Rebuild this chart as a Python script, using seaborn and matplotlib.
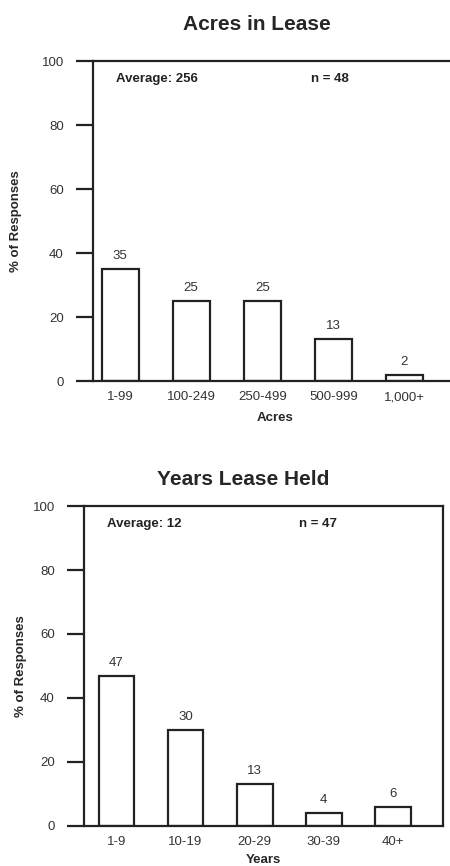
import matplotlib
matplotlib.use("Agg")
import matplotlib.pyplot as plt
import seaborn as sns
import pandas as pd

# Chart data
acre_groups = ["1-99", "100-249", "250-499", "500-999", "1,000+"]
acre_pct = [35, 25, 25, 13, 2]

year_groups = ["1-9", "10-19", "20-29", "30-39", "40+"]
year_pct = [47, 30, 13, 4, 6]

y_ticks = [0, 20, 40, 60, 80, 100]

sns.set_style("white")
plt.rcParams["font.family"] = ["Liberation Sans", "DejaVu Sans"]

edge = "#222222"
txt = "#333333"
fs = 9.5

fig = plt.figure(figsize=(4.5, 8.66), dpi=100)
ax1 = fig.add_axes([0.2067, 0.560, 0.809, 0.3695])
ax2 = fig.add_axes([0.1867, 0.0462, 0.798, 0.3695])


def draw(ax, cats, vals, xlabel, title, avg, n, xlim, title_x, title_pad, ylab_x, xpad):
    df = pd.DataFrame({"cat": cats, "pct": vals})
    sns.barplot(data=df, x="cat", y="pct", ax=ax, color="white",
                edgecolor=edge, linewidth=1.6, width=0.52)
    ax.bar_label(ax.containers[0], labels=[str(v) for v in vals],
                 padding=5, fontsize=fs, color=txt)
    ax.set_ylim(0, 100)
    ax.set_xlim(*xlim)
    ax.set_yticks(y_ticks)
    ax.tick_params(axis="y", direction="out", length=12, width=1.6,
                   color=edge, pad=9, labelsize=fs, labelcolor=txt, left=True)
    ax.tick_params(axis="x", length=0, pad=7.5, labelsize=fs, labelcolor=txt)
    ax.set_xlabel(xlabel, fontsize=fs, fontweight="bold", labelpad=xpad)
    ax.set_ylabel("% of Responses", fontsize=fs, fontweight="bold")
    ax.yaxis.set_label_coords(ylab_x, 0.5)
    ax.set_title(title, fontsize=15, fontweight="bold", x=title_x, pad=title_pad)
    for s in ax.spines.values():
        s.set_linewidth(1.6)
        s.set_color(edge)
    ax.text(0.063, 0.944, "Average: " + avg, transform=ax.transAxes,
            fontsize=fs, fontweight="bold", va="center", color=edge)
    ax.text(0.60, 0.944, "n = " + n, transform=ax.transAxes,
            fontsize=fs, fontweight="bold", va="center", color=edge)


draw(ax1, acre_groups, acre_pct, "Acres", "Acres in Lease", "256", "48",
     (-0.38, 4.74), 0.45, 22, -0.195, 6)
ax1.spines["right"].set_visible(False)

draw(ax2, year_groups, year_pct, "Years", "Years Lease Held", "12", "47",
     (-0.47, 4.73), 0.443, 15, -0.16, 4)

fig.savefig("out.png", dpi=100)
